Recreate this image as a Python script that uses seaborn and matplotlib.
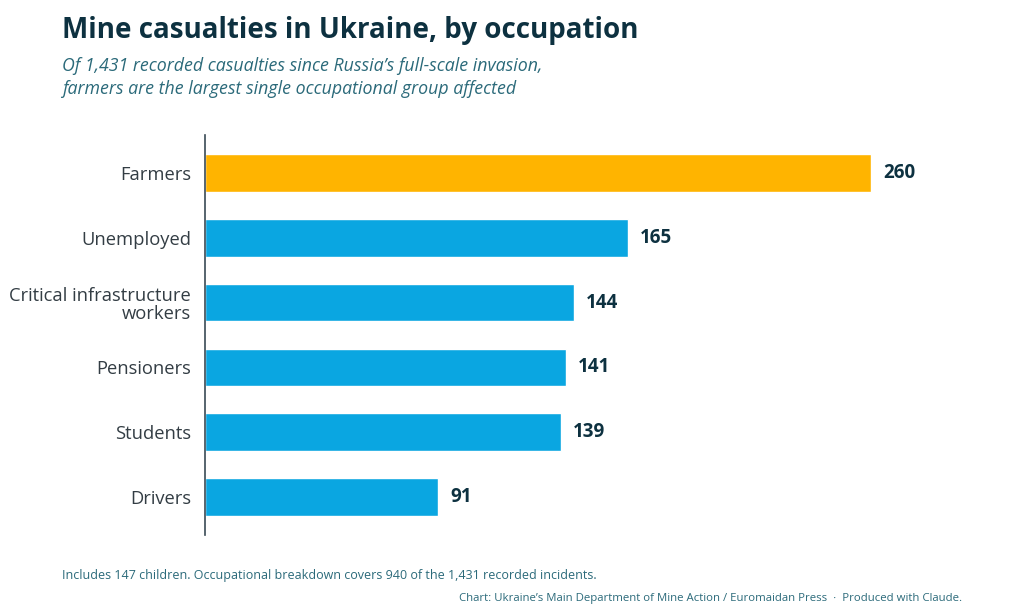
import matplotlib
matplotlib.use("Agg")
import matplotlib.pyplot as plt
import seaborn as sns
import pandas as pd

categories = ["Farmers", "Unemployed", "Critical infrastructure\nworkers",
              "Pensioners", "Students", "Drivers"]
values = [260, 165, 144, 141, 139, 91]
highlight = ["Farmers"]

ORANGE = "#FFB400"
BLUE = "#0AA6E1"
DARK = "#0D3140"
TEAL = "#2B6A7A"

sns.set_theme(style="white")
plt.rcParams["font.family"] = ["Open Sans", "DejaVu Sans"]

df = pd.DataFrame({"cat": categories, "val": values})
palette = {c: (ORANGE if c in highlight else BLUE) for c in categories}

fig = plt.figure(figsize=(10.24, 6.16), dpi=100)
ax = fig.add_axes([0.2002, 0.1315, 0.7505, 0.6493])

sns.barplot(data=df, y="cat", x="val", hue="cat", palette=palette,
            order=categories, hue_order=categories, orient="h",
            width=0.58, legend=False, ax=ax, saturation=1)

ax.set_xlim(0, 300)
ax.set_ylim(5.59, -0.59)
ax.set_xlabel("")
ax.set_ylabel("")
ax.set_xticks([])
for s in ["top", "right", "bottom"]:
    ax.spines[s].set_visible(False)
ax.spines["left"].set_color("#3A4A55")
ax.spines["left"].set_linewidth(1.2)
ax.tick_params(axis="y", length=0, pad=10, labelsize=13.2, labelcolor="#333D44")
for lab in ax.get_yticklabels():
    lab.set_linespacing(1.05)

for i, v in enumerate(values):
    ax.annotate(str(v), xy=(v, i), xytext=(8.5, 0), textcoords="offset points",
                va="center", ha="left", fontsize=13.5, fontweight="bold", color=DARK)

fig.text(0.0605, 0.938, "Mine casualties in Ukraine, by occupation",
         fontsize=20, fontweight="bold", color=DARK, va="baseline")
fig.text(0.0605, 0.884, "Of 1,431 recorded casualties since Russia\u2019s full-scale invasion,",
         fontsize=12.8, style="italic", color=TEAL, va="baseline")
fig.text(0.0605, 0.848, "farmers are the largest single occupational group affected",
         fontsize=12.8, style="italic", color=TEAL, va="baseline")
fig.text(0.0605, 0.060, "Includes 147 children. Occupational breakdown covers 940 of the 1,431 recorded incidents.",
         fontsize=9, color=TEAL, va="baseline")
fig.text(0.940, 0.024, "Chart: Ukraine\u2019s Main Department of Mine Action / Euromaidan Press  \u00b7  Produced with Claude.",
         fontsize=8.2, color=TEAL, va="baseline", ha="right")

fig.savefig("out.png", dpi=100)
